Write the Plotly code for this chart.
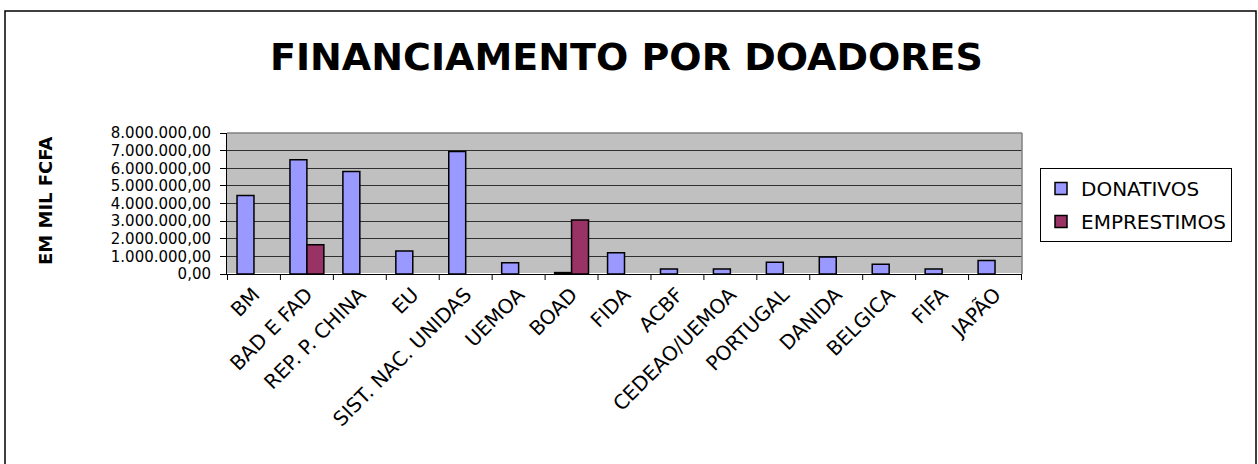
import plotly.graph_objects as go

categories = ["BM", "BAD E FAD", "REP. P. CHINA", "EU", "SIST. NAC. UNIDAS", "UEMOA", "BOAD",
              "FIDA", "ACBF", "CEDEAO/UEMOA", "PORTUGAL", "DANIDA", "BELGICA", "FIFA", "JAPÃO"]
donativos = [4450000, 6480000, 5810000, 1310000, 6950000, 640000, 80000,
             1210000, 280000, 280000, 660000, 970000, 550000, 280000, 760000]
emprestimos = [None, 1660000, None, None, None, None, 3070000,
               None, None, None, None, None, None, None, None]
y_ticks = [0, 1000000, 2000000, 3000000, 4000000, 5000000, 6000000, 7000000, 8000000]

FONT = "DejaVu Sans, Liberation Sans, Arial, sans-serif"

fig = go.Figure()
fig.add_trace(go.Bar(x=categories, y=donativos, name="DONATIVOS", legendgroup="a",
                     marker=dict(color="#9999FF", line=dict(color="black", width=1.5))))
fig.add_trace(go.Bar(x=categories, y=emprestimos, name="EMPRESTIMOS", legendgroup="b",
                     marker=dict(color="#993366", line=dict(color="black", width=1.5))))

W, H = 1258, 464
L, R, T, B = 227, 236, 133, 190
pw, ph = W - L - R, H - T - B

def px_x(p):
    return (p - L) / pw

def px_y(p):
    return (H - B - p) / ph

fig.update_layout(
    width=W, height=H,
    margin=dict(l=L, r=R, t=T, b=B, autoexpand=False),
    paper_bgcolor="white",
    plot_bgcolor="#C0C0C0",
    barmode="group",
    bargap=0.36,
    bargroupgap=0,
    separators=",.",
    font=dict(family=FONT, color="black"),
    title=dict(text="<b>FINANCIAMENTO POR DOADORES</b>", x=632 / W, xanchor="center",
               y=1 - 57 / H, yanchor="middle", xref="paper",
               font=dict(size=38, family=FONT, color="black")),
    legend=dict(x=px_x(1040), y=px_y(168), xanchor="left", yanchor="top",
                bordercolor="black", borderwidth=1, bgcolor="white",
                font=dict(size=20, family=FONT), itemwidth=30, tracegroupgap=4,
                traceorder="grouped"),
    xaxis=dict(tickangle=-45, tickfont=dict(size=20, family=FONT),
               showline=True, linecolor="black", linewidth=1,
               ticks="", showgrid=False),
    yaxis=dict(range=[0, 8000000], tickvals=y_ticks, tickformat=",.2f",
               tickfont=dict(size=15, family=FONT), ticklabelstandoff=6,
               showline=True, linecolor="black", linewidth=1,
               ticks="outside", ticklen=6, tickcolor="black",
               showgrid=True, gridcolor="#303030", gridwidth=1),
    annotations=[
        dict(text="<b>EM MIL FCFA</b>", xref="paper", yref="paper",
             x=px_x(45), y=px_y(201), xanchor="center", yanchor="middle",
             textangle=-90, showarrow=False, font=dict(size=18, family=FONT)),
    ],
    shapes=[
        dict(type="rect", xref="paper", yref="paper", x0=px_x(5), x1=px_x(1256),
             y0=px_y(470), y1=px_y(11), line=dict(color="black", width=1.5), layer="below"),
        dict(type="line", xref="paper", yref="paper", x0=0, x1=1, y0=1, y1=1,
             line=dict(color="#808080", width=1.5)),
        dict(type="line", xref="paper", yref="paper", x0=1, x1=1, y0=0, y1=1,
             line=dict(color="#808080", width=1.5)),
    ],
)

# category separator ticks on the x axis
for i in range(len(categories) + 1):
    fig.add_shape(type="line", xref="x", yref="paper", x0=i - 0.5, x1=i - 0.5,
                  y0=0, y1=-6 / ph, line=dict(color="black", width=1))

fig.write_html("out.html", config={"displayModeBar": False},
               post_script="document.body.style.margin='0';")
